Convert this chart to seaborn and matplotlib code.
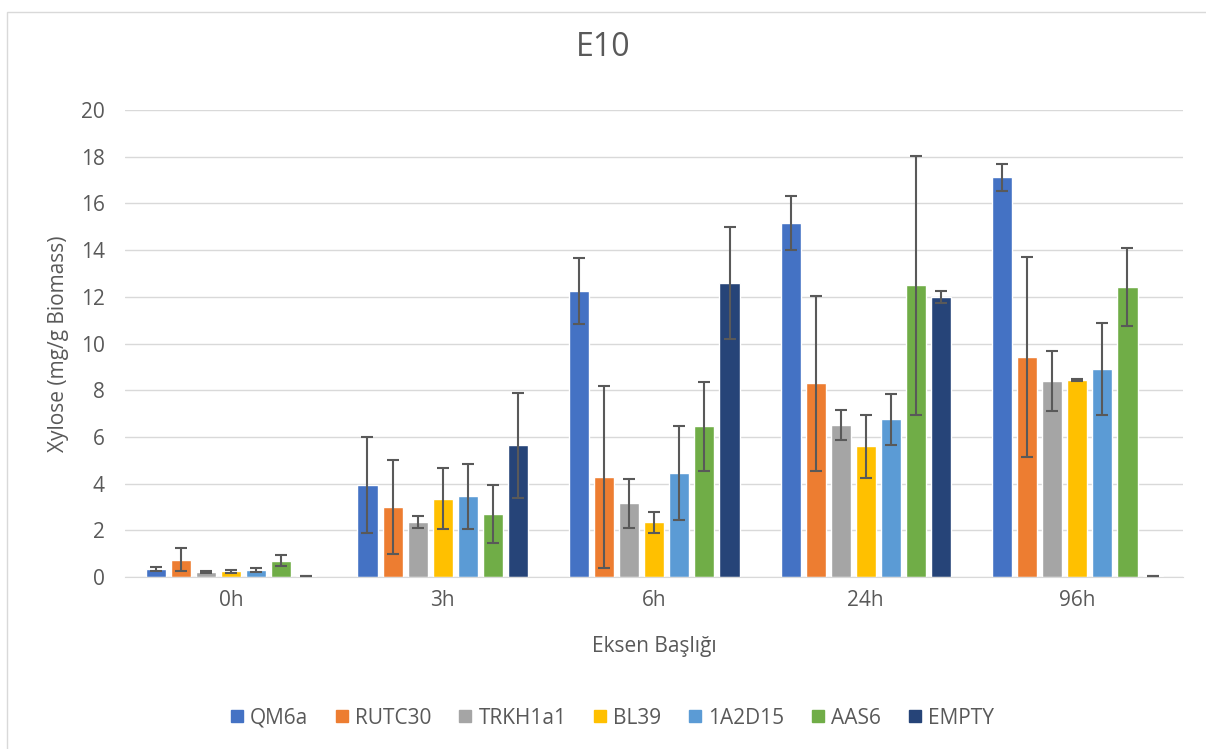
import pandas as pd
import matplotlib.pyplot as plt
import seaborn as sns
from matplotlib.patches import Rectangle
from matplotlib.lines import Line2D

times = ['0h', '3h', '6h', '24h', '96h']
strains = ['QM6a', 'RUTC30', 'TRKH1a1', 'BL39', '1A2D15', 'AAS6', 'EMPTY']
colors = ['#4472C4', '#ED7D31', '#A5A5A5', '#FFC000', '#5B9BD5', '#70AD47', '#264478']

# mean per strain, one value per time point
qm6a = [0.35, 3.95, 12.25, 15.15, 17.12]
rutc30 = [0.75, 3.0, 4.3, 8.3, 9.41]
trkh1a1 = [0.22, 2.35, 3.15, 6.5, 8.41]
bl39 = [0.25, 3.35, 2.35, 5.6, 8.45]
a1a2d15 = [0.3, 3.45, 4.45, 6.75, 8.9]
aas6 = [0.7, 2.7, 6.45, 12.5, 12.42]
empty = [0.03, 5.65, 12.6, 12.0, 0.03]

# error (+/-)
qm6a_err = [0.1, 2.05, 1.4, 1.15, 0.59]
rutc30_err = [0.48, 2.0, 3.9, 3.75, 4.28]
trkh1a1_err = [0.03, 0.25, 1.05, 0.65, 1.28]
bl39_err = [0.07, 1.3, 0.45, 1.35, 0.05]
a1a2d15_err = [0.07, 1.4, 2.0, 1.1, 1.98]
aas6_err = [0.23, 1.25, 1.9, 5.55, 1.67]
empty_err = [0.0, 2.25, 2.4, 0.25, 0.0]

means = [qm6a, rutc30, trkh1a1, bl39, a1a2d15, aas6, empty]
errs = [qm6a_err, rutc30_err, trkh1a1_err, bl39_err, a1a2d15_err, aas6_err, empty_err]

rows = []
for s, m, e in zip(strains, means, errs):
    for t, v, d in zip(times, m, e):
        rows.append({'time': t, 'strain': s, 'value': v, 'err': d})
df = pd.DataFrame(rows)

sns.set_style('white')
plt.rcParams['font.family'] = ['Open Sans', 'DejaVu Sans']
gray = '#595959'

fig = plt.figure(figsize=(12.06, 7.49), dpi=100)
ax = fig.add_axes([0.104, 0.2296, 0.877, 0.6234])

sns.barplot(data=df, x='time', y='value', hue='strain', order=times, hue_order=strains,
            palette=colors, saturation=1, width=0.83, gap=0.2, errorbar=None, ax=ax,
            legend=False, zorder=2)

for cont, s in zip(ax.containers, strains):
    sub = df[df['strain'] == s].set_index('time').loc[times]
    xs = [b.get_x() + b.get_width() / 2 for b in cont]
    ax.errorbar(xs, sub['value'], yerr=sub['err'], fmt='none', ecolor=gray,
                elinewidth=1.5, capsize=4.5, capthick=1.5, zorder=3)

ax.set_xlim(-0.5, 4.5)
ax.set_ylim(0, 20)
ax.set_yticks(range(0, 21, 2))
ax.grid(axis='y', color='#D9D9D9', linewidth=1, zorder=0)
ax.set_axisbelow(True)
for sp in ['top', 'right', 'left']:
    ax.spines[sp].set_visible(False)
ax.spines['bottom'].set_color('#D9D9D9')
ax.tick_params(axis='both', length=0, labelsize=15, labelcolor=gray, pad=9)
ax.tick_params(axis='y', pad=15)

ax.set_xlabel('Eksen Başlığı', fontsize=15, color=gray, labelpad=18)
ax.set_ylabel('Xylose (mg/g Biomass)', fontsize=15, color=gray, labelpad=8)
fig.text(0.5, 0.936, 'E10', ha='center', va='center', fontsize=23, color=gray)

handles = [Line2D([], [], marker='s', linestyle='none', markersize=9, color=c) for c in colors]
fig.legend(handles, strains, loc='center', bbox_to_anchor=(0.506, 0.041), ncol=7,
           frameon=False, fontsize=15, labelcolor=gray, handletextpad=0.15,
           columnspacing=1.1, handlelength=1.0)

fig.patches.append(Rectangle((6.5 / 1206, -0.05), 1.1, 1 - 11.5 / 749 + 0.05,
                             transform=fig.transFigure, fill=False,
                             edgecolor='#D9D9D9', linewidth=1))

fig.savefig('out.png', dpi=100)
